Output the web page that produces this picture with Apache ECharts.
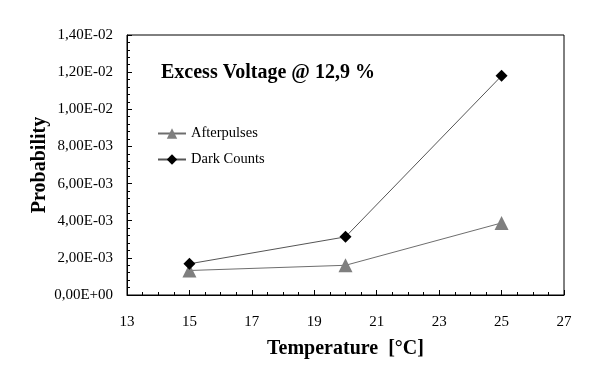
<!DOCTYPE html>
<html>
<head>
<meta charset="utf-8">
<script src="https://cdn.jsdelivr.net/npm/echarts@6/dist/echarts.min.js"></script>
<style>
  html, body { margin: 0; padding: 0; background: #fff; }
  #chart { width: 599px; height: 379px; }
</style>
</head>
<body>
<div id="chart"></div>
<script>
  // temperatures in °C
  var temperatures = [15, 20, 25]
  var afterpulses = [1.32e-3, 1.6e-3, 3.88e-3]
  var darkCounts = [1.68e-3, 3.13e-3, 1.18e-2]
  var seriesNames = ['Afterpulses', 'Dark Counts']

  var serif = '"Liberation Serif", "DejaVu Serif", serif'

  function sciLabel (v) {
    var s = Number(v).toExponential(2)
    var parts = s.split('e')
    var exp = parseInt(parts[1], 10)
    var sign = exp < 0 ? '-' : '+'
    var e = Math.abs(exp)
    return parts[0].replace('.', ',') + 'E' + sign + (e < 10 ? '0' + e : e)
  }

  function pairs (xs, ys) {
    return xs.map(function (x, i) { return [x, ys[i]] })
  }

  var chart = echarts.init(document.getElementById('chart'))
  var option = {
    animation: false,
    backgroundColor: '#fff',
    title: {
      text: 'Excess Voltage @ 12,9 %',
      left: 156,
      top: 58,
      textStyle: {
        fontFamily: serif,
        fontWeight: 'bold',
        fontSize: 20,
        color: '#000'
      }
    },
    legend: {
      data: seriesNames,
      orient: 'vertical',
      left: 152,
      top: 121,
      itemGap: 11,
      itemWidth: 28,
      itemHeight: 13,
      textStyle: {
        fontFamily: serif,
        fontSize: 14.5,
        color: '#000'
      }
    },
    grid: {
      left: 127,
      right: 35,
      top: 35,
      bottom: 84,
      show: true,
      borderColor: '#000',
      borderWidth: 1
    },
    xAxis: {
      type: 'value',
      min: 13,
      max: 27,
      interval: 2,
      name: 'Temperature  [°C]',
      nameLocation: 'middle',
      nameGap: 44,
      nameTextStyle: {
        fontFamily: serif,
        fontWeight: 'bold',
        fontSize: 20,
        color: '#000'
      },
      axisLine: { lineStyle: { color: '#000' } },
      axisTick: { inside: true, length: 5, lineStyle: { color: '#000' } },
      minorTick: { show: true, splitNumber: 4, length: 3, lineStyle: { color: '#000' } },
      splitLine: { show: false },
      axisLabel: {
        margin: 20,
        fontFamily: serif,
        fontSize: 15,
        color: '#000'
      }
    },
    yAxis: {
      type: 'value',
      min: 0,
      max: 0.014,
      interval: 0.002,
      name: 'Probability',
      nameLocation: 'middle',
      nameGap: 77,
      nameMoveOverlap: false,
      nameTextStyle: {
        fontFamily: serif,
        fontWeight: 'bold',
        fontSize: 20,
        color: '#000'
      },
      axisLine: { lineStyle: { color: '#000' } },
      axisTick: { inside: true, length: 5, lineStyle: { color: '#000' } },
      minorTick: { show: true, splitNumber: 5, length: 3, lineStyle: { color: '#000' } },
      splitLine: { show: false },
      axisLabel: {
        margin: 14,
        fontFamily: serif,
        fontSize: 15,
        color: '#000',
        formatter: sciLabel
      }
    },
    series: [
      {
        name: seriesNames[0],
        type: 'line',
        data: pairs(temperatures, afterpulses),
        symbol: 'triangle',
        symbolSize: 14,
        itemStyle: { color: '#7f7f7f' },
        lineStyle: { color: '#6e6e6e', width: 1 }
      },
      {
        name: seriesNames[1],
        type: 'line',
        data: pairs(temperatures, darkCounts),
        symbol: 'diamond',
        symbolSize: 12,
        itemStyle: { color: '#000' },
        lineStyle: { color: '#555', width: 1 }
      }
    ]
  }
  chart.setOption(option)
</script>
</body>
</html>
